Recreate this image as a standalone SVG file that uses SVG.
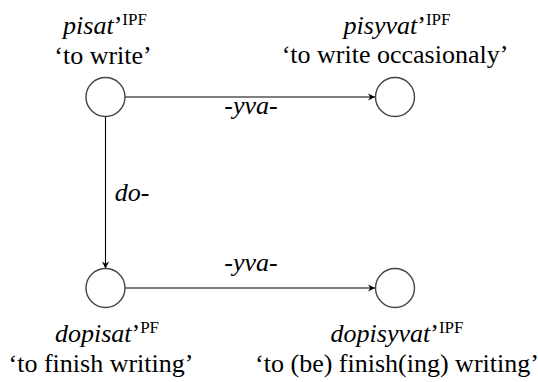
<svg xmlns="http://www.w3.org/2000/svg" width="538" height="382" viewBox="0 0 538 382" font-family="Liberation Serif, serif">
<style>
text{font-family:'Liberation Serif',serif;font-size:26px;fill:#000;text-anchor:middle}
.it{font-style:italic}
.sup{font-size:17px;font-style:normal}
.node{fill:#fff;stroke:#444;stroke-width:1.4}
.edge{fill:none;stroke:#000;stroke-width:1.1}
</style>
<defs>
<marker id="arr" markerWidth="10" markerHeight="10" refX="0" refY="0" viewBox="-8 -5 10 10" orient="auto" markerUnits="userSpaceOnUse">
<path d="M0,0 L-7,-3.6 L-4.8,0 L-7,3.6 Z" fill="#000"/>
</marker>
</defs>
<g id="connectors">
<path class="edge" d="M125,97 L375,97" marker-end="url(#arr)"/>
<path class="edge" d="M105.5,116.5 L105.5,268.5" marker-end="url(#arr)"/>
<path class="edge" d="M125,288 L375,288" marker-end="url(#arr)"/>
<text class="it" x="251" y="114">-yva-</text>
<text class="it" x="251" y="271">-yva-</text>
<text class="it" x="132" y="201">do-</text>
</g>
<g id="pisat">
<circle class="node" cx="105.5" cy="97" r="19.5"/>
<text x="105" y="34"><tspan class="it">pisat</tspan>’<tspan class="sup" dy="-9">IPF</tspan></text>
<text x="103" y="64">‘to write’</text>
</g>
<g id="pisyvat">
<circle class="node" cx="395" cy="97" r="19.5"/>
<text x="397" y="34"><tspan class="it">pisyvat</tspan>’<tspan class="sup" dy="-9">IPF</tspan></text>
<text x="395" y="63">‘to write occasionaly’</text>
</g>
<g id="dopisat">
<circle class="node" cx="105.5" cy="288" r="19.5"/>
<text x="107" y="342"><tspan class="it">dopisat</tspan>’<tspan class="sup" dy="-9">PF</tspan></text>
<text x="101" y="372">‘to finish writing’</text>
</g>
<g id="dopisyvat">
<circle class="node" cx="395" cy="288" r="19.5"/>
<text x="397" y="342"><tspan class="it">dopisyvat</tspan>’<tspan class="sup" dy="-9">IPF</tspan></text>
<text x="397" y="372">‘to (be) finish(ing) writing’</text>
</g>
</svg>
